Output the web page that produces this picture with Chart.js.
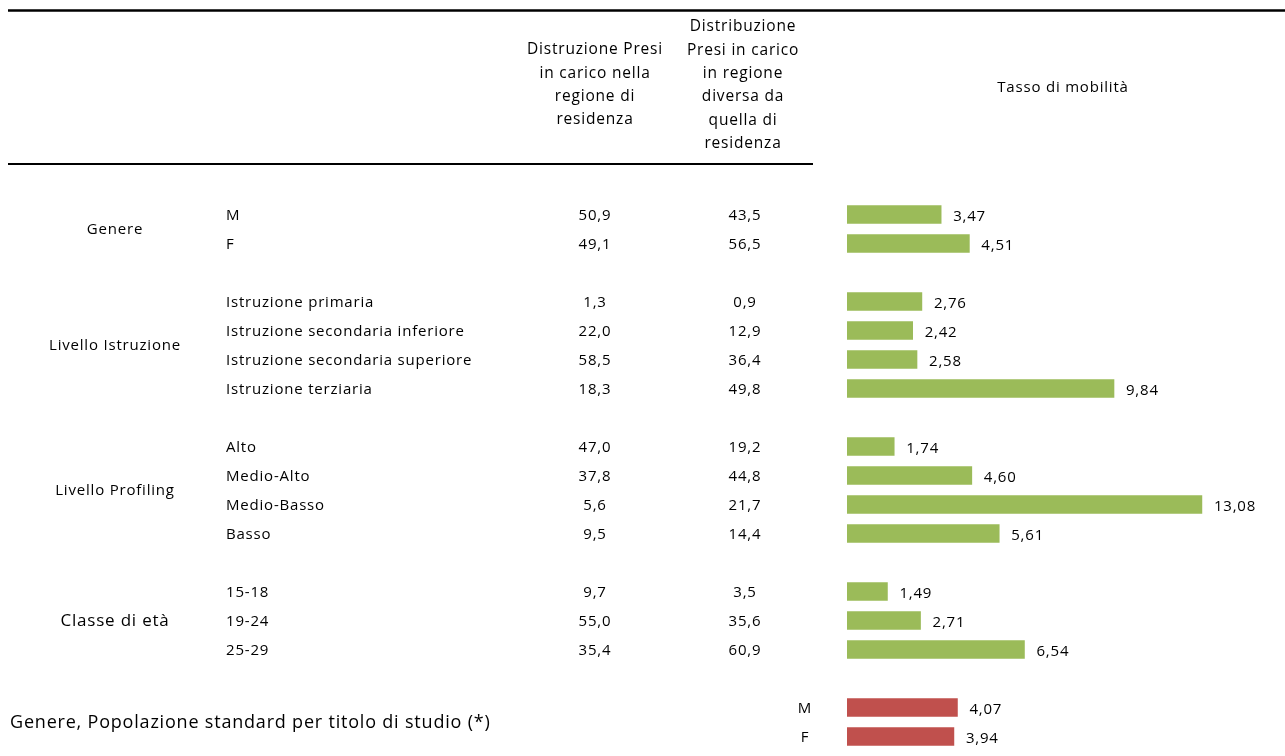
<!DOCTYPE html>
<html>
<head>
<meta charset="utf-8">
<script src="https://cdn.jsdelivr.net/npm/chart.js@4.4.1/dist/chart.umd.min.js"></script>
<style>
  body { margin: 0; background: #fff; }
</style>
</head>
<body>
<canvas id="tassoChart" width="1285" height="756"></canvas>
<script>
// rows of the table, null = empty spacer row between groups
const rowLabels = ['M', 'F', null,
  'Istruzione primaria', 'Istruzione secondaria inferiore', 'Istruzione secondaria superiore', 'Istruzione terziaria', null,
  'Alto', 'Medio-Alto', 'Medio-Basso', 'Basso', null,
  '15-18', '19-24', '25-29', null,
  'M', 'F'];
const distResidenza = [50.9, 49.1, null, 1.3, 22.0, 58.5, 18.3, null, 47.0, 37.8, 5.6, 9.5, null, 9.7, 55.0, 35.4, null, null, null];
const distDiversa = [43.5, 56.5, null, 0.9, 12.9, 36.4, 49.8, null, 19.2, 44.8, 21.7, 14.4, null, 3.5, 35.6, 60.9, null, null, null];
const tassoMobilita = [3.47, 4.51, null, 2.76, 2.42, 2.58, 9.84, null, 1.74, 4.60, 13.08, 5.61, null, 1.49, 2.71, 6.54, null, null, null];
const tassoStandard = [null, null, null, null, null, null, null, null, null, null, null, null, null, null, null, null, null, 4.07, 3.94];

const groupNames = ['Genere', 'Livello Istruzione', 'Livello Profiling', 'Classe di età'];
const groupRows = [[0, 1], [3, 6], [8, 11], [13, 15]];
const standardLabel = 'Genere, Popolazione standard per titolo di studio (*)';

const header1 = ['Distruzione Presi', 'in carico nella', 'regione di', 'residenza'];
const header2 = ['Distribuzione', 'Presi in carico', 'in regione', 'diversa da', 'quella di', 'residenza'];
const header3 = 'Tasso di mobilità';

const comma = (v, d) => v.toFixed(d).replace('.', ',');

const tableText = {
  id: 'tableText',
  afterDraw(chart) {
    const { ctx, scales: { x, y } } = chart;
    ctx.save();
    ctx.fillStyle = '#000';
    ctx.strokeStyle = '#000';

    // rules
    ctx.lineWidth = 2.5;
    ctx.beginPath(); ctx.moveTo(8, 10.5); ctx.lineTo(1285, 10.5); ctx.stroke();
    ctx.lineWidth = 2;
    ctx.beginPath(); ctx.moveTo(8, 164); ctx.lineTo(813, 164); ctx.stroke();

    ctx.letterSpacing = '0.8px';
    ctx.textBaseline = 'middle';
    ctx.textAlign = 'center';
    ctx.font = '15.5px "Open Sans"';
    header1.forEach((t, i) => ctx.fillText(t, 595, 50 + i * 23.3));
    header2.forEach((t, i) => ctx.fillText(t, 743, 27 + i * 23.3));
    ctx.font = '15px "Open Sans"';
    ctx.fillText(header3, 1063, 88);

    rowLabels.forEach((lab, i) => {
      if (!lab) return;
      const py = y.getPixelForValue(i) + 1.5;
      if (tassoStandard[i] != null) {
        ctx.textAlign = 'center';
        ctx.fillText(lab, 805, py);
      } else {
        ctx.textAlign = 'left';
        ctx.fillText(lab, 226, py);
        ctx.textAlign = 'center';
        ctx.fillText(comma(distResidenza[i], 1), 595, py);
        ctx.fillText(comma(distDiversa[i], 1), 745, py);
      }
      const v = tassoMobilita[i] != null ? tassoMobilita[i] : tassoStandard[i];
      ctx.textAlign = 'left';
      ctx.fillText(comma(v, 2), x.getPixelForValue(v) + 12, py + 1);
    });

    ctx.textAlign = 'center';
    groupNames.forEach((g, k) => {
      const [a, b] = groupRows[k];
      const py = (y.getPixelForValue(a) + y.getPixelForValue(b)) / 2 + 1;
      ctx.font = k === 3 ? '17px "Open Sans"' : '15px "Open Sans"';
      ctx.fillText(g, 115, py);
    });

    ctx.textAlign = 'left';
    ctx.font = '18px "Open Sans"';
    const sy = (y.getPixelForValue(17) + y.getPixelForValue(18)) / 2 + 1;
    ctx.fillText(standardLabel, 10, sy);
    ctx.restore();
  }
};

new Chart(document.getElementById('tassoChart'), {
  type: 'bar',
  data: {
    labels: rowLabels.map((l, i) => l || ' ' + i),
    datasets: [
      { label: 'Tasso di mobilità', data: tassoMobilita, backgroundColor: '#9BBB59', grouped: false, barThickness: 18 },
      { label: 'Popolazione standard', data: tassoStandard, backgroundColor: '#C0504D', grouped: false, barThickness: 18 }
    ]
  },
  options: {
    indexAxis: 'y',
    responsive: false,
    animation: false,
    devicePixelRatio: 1,
    layout: { padding: { left: 847, right: 31, top: 200, bottom: 5 } },
    plugins: { legend: { display: false }, tooltip: { enabled: false } },
    scales: {
      x: { display: false, min: 0, max: 15 },
      y: { display: false }
    }
  },
  plugins: [tableText]
});
</script>
</body>
</html>
